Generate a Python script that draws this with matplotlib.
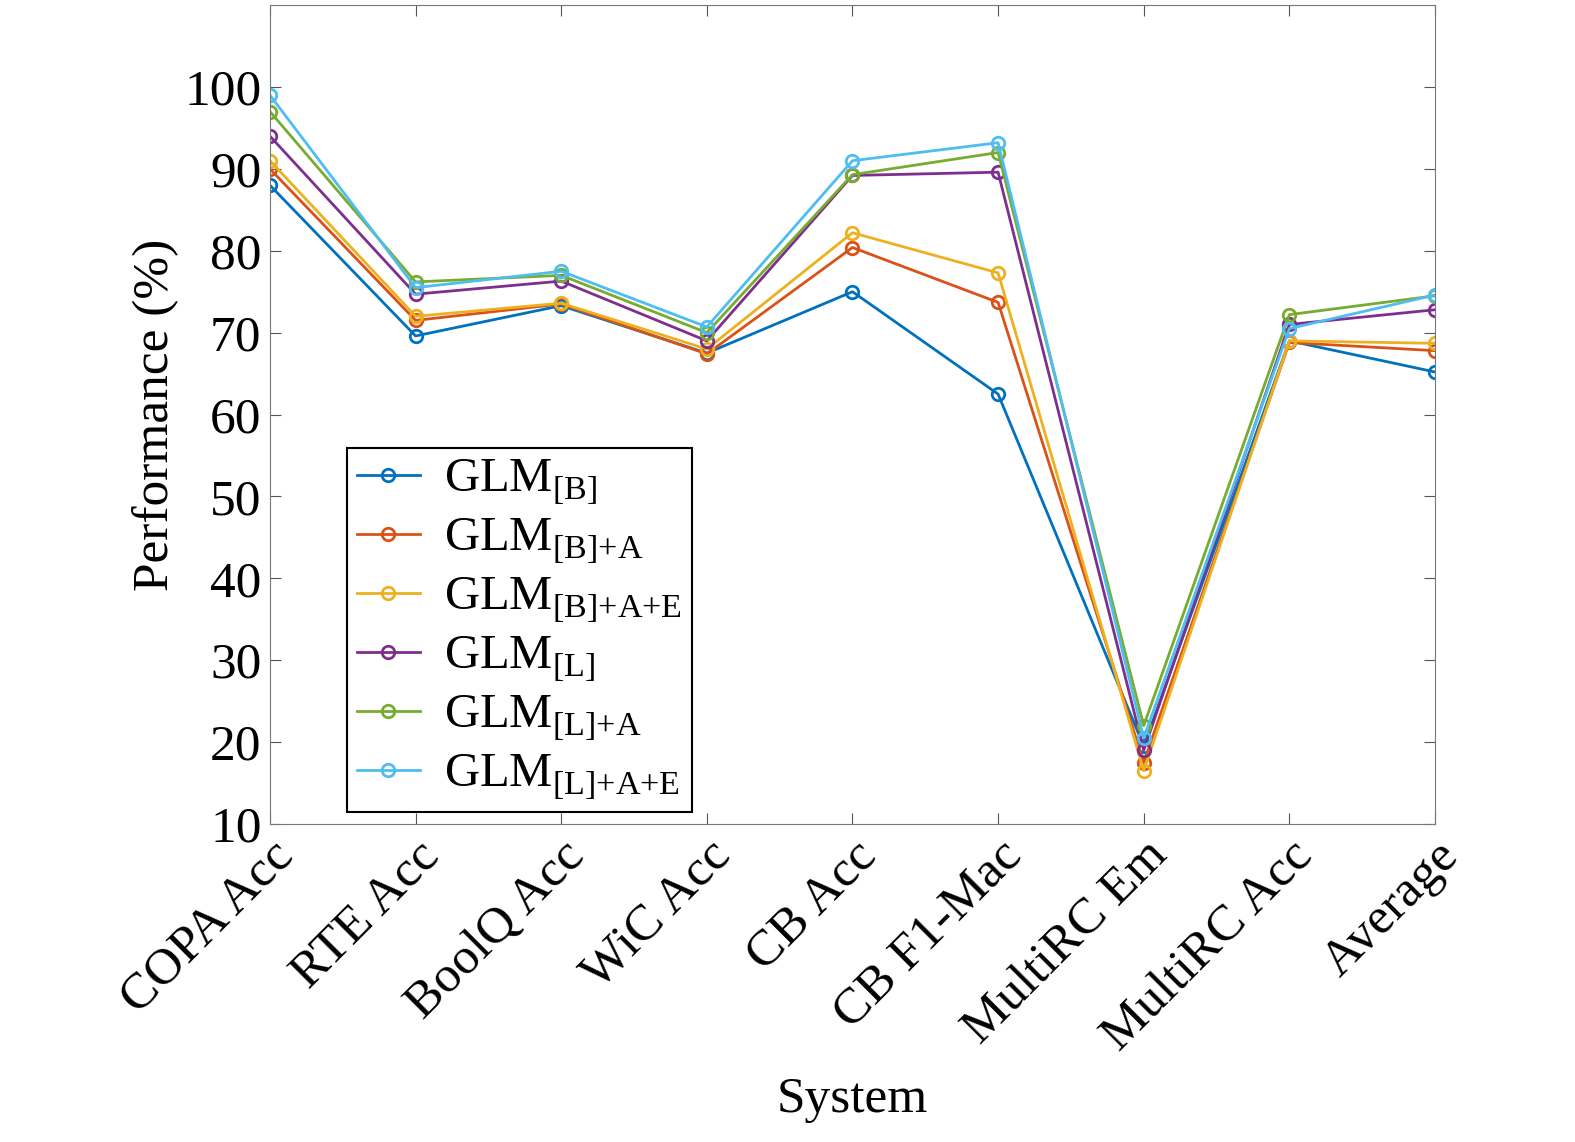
import matplotlib
matplotlib.use('Agg')
import matplotlib.pyplot as plt

plt.rcParams['font.family'] = ['Liberation Serif', 'DejaVu Serif']
plt.rcParams['mathtext.fontset'] = 'custom'
plt.rcParams['mathtext.rm'] = 'Liberation Serif'

systems = ['COPA Acc', 'RTE Acc', 'BoolQ Acc', 'WiC Acc', 'CB Acc',
           'CB F1-Mac', 'MultiRC Em', 'MultiRC Acc', 'Average']
labels = [r'GLM$_{\mathrm{[B]}}$', r'GLM$_{\mathrm{[B]{+}A}}$', r'GLM$_{\mathrm{[B]{+}A{+}E}}$',
          r'GLM$_{\mathrm{[L]}}$', r'GLM$_{\mathrm{[L]{+}A}}$', r'GLM$_{\mathrm{[L]{+}A{+}E}}$']
glm_b = [88, 69.6, 73.3, 67.5, 75, 62.5, 19.5, 69, 65.2]
glm_ba = [90, 71.5, 73.5, 67.4, 80.4, 73.7, 17.5, 68.8, 67.8]
glm_bae = [91, 72, 73.6, 68, 82.2, 77.3, 16.5, 69, 68.7]
glm_l = [94, 74.7, 76.3, 69, 89.2, 89.6, 19, 71, 72.8]
glm_la = [97, 76.2, 77, 70, 89.3, 92, 22, 72.2, 74.5]
glm_lae = [99, 75.5, 77.5, 70.7, 91, 93.2, 20.5, 70.5, 74.6]
series = [glm_b, glm_ba, glm_bae, glm_l, glm_la, glm_lae]
colors = ['#0072BD', '#D95319', '#EDB120', '#7E2F8E', '#77AC30', '#4DBEEE']

fig = plt.figure(figsize=(15.75, 11.42), dpi=100)
ax = fig.add_axes([0.1714, 0.2785, 0.7397, 0.717])
x = range(len(systems))
for vals, lab, c in zip(series, labels, colors):
    ax.plot(x, vals, '-o', color=c, label=lab, lw=2, ms=9,
            markerfacecolor='none', markeredgewidth=2)

ax.set_xlim(0, len(systems) - 1)
ax.set_ylim(10, 110)
ax.set_yticks(range(10, 101, 10))
ax.set_xticks(list(x))
ax.set_xticklabels(systems, rotation=45, ha='right', rotation_mode='anchor')
ax.tick_params(direction='in', which='both', top=True, right=True,
               labelsize=37, length=8, color='#555555', pad=6)
for s in ax.spines.values():
    s.set_color('#777777')
ax.set_xlabel('System', fontsize=37, labelpad=12)
ax.set_ylabel('Performance (%)', fontsize=37, labelpad=4)

leg = ax.legend(loc='lower left', bbox_to_anchor=(0.066, 0.015), fontsize=35,
                fancybox=False, edgecolor='black', framealpha=1,
                handlelength=1.3, handletextpad=0.5, labelspacing=0.2,
                borderpad=0.2, borderaxespad=0)
leg.get_frame().set_linewidth(1.5)

fig.savefig('out.png', dpi=100)
